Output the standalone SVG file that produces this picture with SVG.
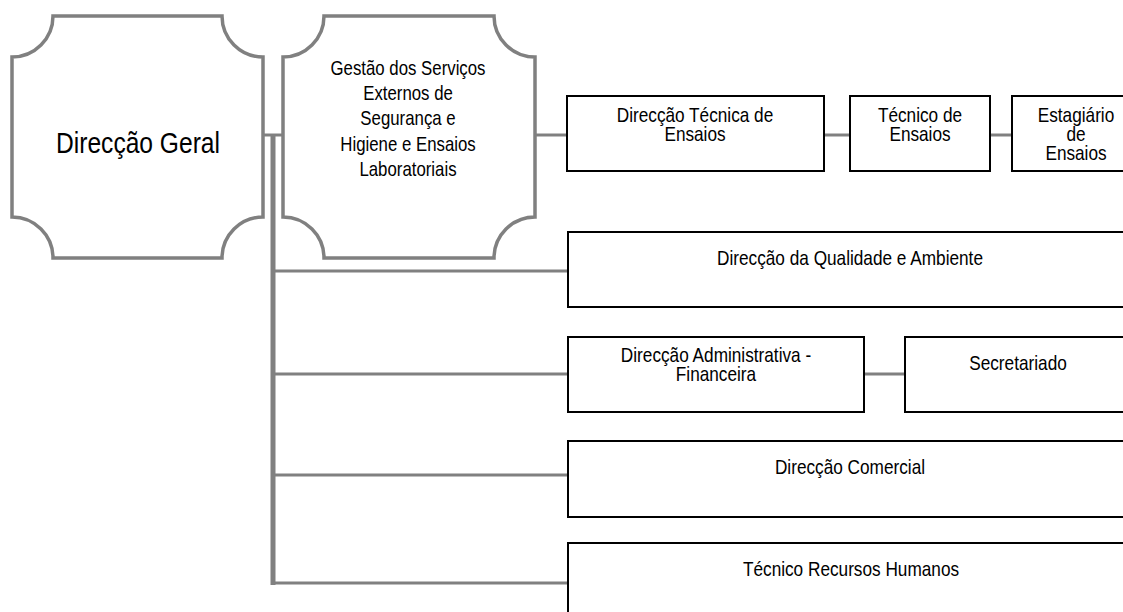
<svg xmlns="http://www.w3.org/2000/svg" width="1123" height="612" viewBox="0 0 1123 612">
<style>
.oct{fill:#fff;stroke:#808080;stroke-width:3.5}
.box{fill:#fff;stroke:#000;stroke-width:2}
.ln{stroke:#808080;stroke-width:3;fill:none}
.trunk{stroke:#808080;stroke-width:5;fill:none}
text{font-family:"Liberation Sans",Arial,sans-serif;font-size:21px;fill:#000;text-anchor:middle}
.big{font-size:30px}
.mid{font-size:20.5px}
</style>
<rect width="1123" height="612" fill="#fff"/>
<g id="connectors">
<line class="ln" x1="263" y1="135" x2="283" y2="135"/>
<line class="trunk" x1="273" y1="135" x2="273" y2="585"/>
<line class="ln" x1="273" y1="271" x2="568" y2="271"/>
<line class="ln" x1="273" y1="374" x2="568" y2="374"/>
<line class="ln" x1="273" y1="475" x2="568" y2="475"/>
<line class="ln" x1="273" y1="583" x2="568" y2="583"/>
<line class="ln" x1="535" y1="135" x2="567" y2="135"/>
<line class="ln" x1="824" y1="135" x2="850" y2="135"/>
<line class="ln" x1="990" y1="135" x2="1012" y2="135"/>
<line class="ln" x1="864" y1="374" x2="905" y2="374"/>
</g>
<g id="direccao-geral">
<path class="oct" d="M53,16 H222 A41,41 0 0 0 263,57 V217 A41,41 0 0 0 222,258 H53 A41,41 0 0 0 12,217 V57 A41,41 0 0 0 53,16 Z"/>
<text class="big" transform="translate(138,153) scale(0.82,1)">Direcção Geral</text>
</g>
<g id="gestao-servicos">
<path class="oct" d="M324,16 H494 A41,41 0 0 0 535,57 V217 A41,41 0 0 0 494,258 H324 A41,41 0 0 0 283,217 V57 A41,41 0 0 0 324,16 Z"/>
<text class="mid" transform="translate(408,75) scale(0.82,1)">Gestão dos Serviços</text>
<text class="mid" transform="translate(408,100) scale(0.82,1)">Externos de</text>
<text class="mid" transform="translate(408,125) scale(0.82,1)">Segurança e</text>
<text class="mid" transform="translate(408,151) scale(0.82,1)">Higiene e Ensaios</text>
<text class="mid" transform="translate(408,176) scale(0.82,1)">Laboratoriais</text>
</g>
<g id="direccao-tecnica">
<rect class="box" x="567" y="96" width="257" height="75"/>
<text transform="translate(695,122) scale(0.82,1)">Direcção Técnica de</text>
<text transform="translate(695,141) scale(0.82,1)">Ensaios</text>
</g>
<g id="tecnico-ensaios">
<rect class="box" x="850" y="96" width="140" height="75"/>
<text transform="translate(920,122) scale(0.82,1)">Técnico de</text>
<text transform="translate(920,141) scale(0.82,1)">Ensaios</text>
</g>
<g id="estagiario-ensaios">
<rect class="box" x="1012" y="96" width="128" height="75"/>
<text transform="translate(1076,122) scale(0.82,1)">Estagiário</text>
<text transform="translate(1076,141) scale(0.82,1)">de</text>
<text transform="translate(1076,160) scale(0.82,1)">Ensaios</text>
</g>
<g id="direccao-qualidade">
<rect class="box" x="568" y="232" width="565" height="75"/>
<text transform="translate(850,265) scale(0.82,1)">Direcção da Qualidade e Ambiente</text>
</g>
<g id="direccao-administrativa">
<rect class="box" x="568" y="337" width="296" height="75"/>
<text transform="translate(716,362) scale(0.82,1)">Direcção Administrativa -</text>
<text transform="translate(716,381) scale(0.82,1)">Financeira</text>
</g>
<g id="secretariado">
<rect class="box" x="905" y="337" width="228" height="75"/>
<text transform="translate(1018,370) scale(0.82,1)">Secretariado</text>
</g>
<g id="direccao-comercial">
<rect class="box" x="568" y="441" width="565" height="76"/>
<text transform="translate(850,474) scale(0.82,1)">Direcção Comercial</text>
</g>
<g id="tecnico-rh">
<rect class="box" x="568" y="543" width="565" height="80"/>
<text transform="translate(851,576) scale(0.82,1)">Técnico Recursos Humanos</text>
</g>
</svg>
